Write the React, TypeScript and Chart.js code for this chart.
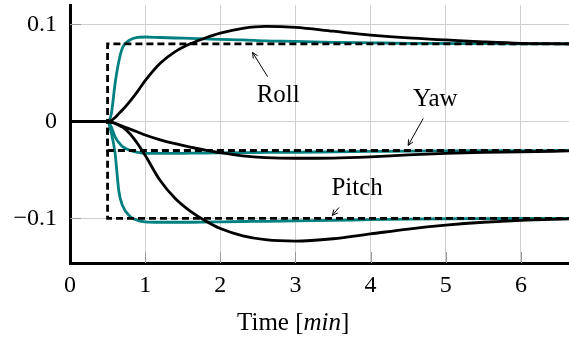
import React, { useEffect, useRef } from 'react';
import { Chart, registerables } from 'chart.js';

Chart.register(...registerables);

// ---- data ----
const timeGrid = [0, 0.5, 0.55, 0.6, 0.65, 0.7, 0.8, 0.9, 1.0, 1.2, 1.4, 1.6, 1.8, 2.0, 2.3, 2.6, 3.0, 3.5, 4.0, 4.5, 5.0, 5.5, 6.0, 6.64];

const rollFast = [0, 0, 0.008, 0.039, 0.062, 0.076, 0.084, 0.0865, 0.087, 0.0865, 0.086, 0.0855, 0.085, 0.0845, 0.084, 0.083, 0.0825, 0.0815, 0.081, 0.0805, 0.0803, 0.0801, 0.080, 0.080];
const rollSlow = [0, 0, 0.001, 0.004, 0.008, 0.012, 0.021, 0.031, 0.042, 0.060, 0.072, 0.080, 0.086, 0.091, 0.096, 0.098, 0.097, 0.093, 0.089, 0.086, 0.084, 0.082, 0.0805, 0.080];
const yawFast = [0, 0, -0.006, -0.016, -0.022, -0.026, -0.030, -0.032, -0.033, -0.033, -0.033, -0.0328, -0.0326, -0.0325, -0.0323, -0.032, -0.0318, -0.0314, -0.031, -0.0306, -0.0303, -0.0302, -0.0301, -0.030];
const yawSlow = [0, 0, -0.001, -0.002, -0.0035, -0.005, -0.008, -0.011, -0.014, -0.019, -0.023, -0.0265, -0.0295, -0.0322, -0.0355, -0.0373, -0.038, -0.0378, -0.0365, -0.0345, -0.033, -0.032, -0.0315, -0.0305];
const pitchFast = [0, 0, -0.012, -0.033, -0.072, -0.087, -0.098, -0.102, -0.1035, -0.104, -0.104, -0.104, -0.1038, -0.1035, -0.1032, -0.103, -0.1025, -0.102, -0.1013, -0.1008, -0.1004, -0.1002, -0.1001, -0.100];
const pitchSlow = [0, 0, -0.001, -0.002, -0.004, -0.006, -0.013, -0.023, -0.035, -0.061, -0.0795, -0.0925, -0.1025, -0.1105, -0.118, -0.122, -0.1235, -0.121, -0.116, -0.111, -0.107, -0.104, -0.102, -0.1005];

const refTime = [0, 0.5, 0.5, 6.64];
const rollRef = [0, 0, 0.08, 0.08];
const yawRef = [0, 0, -0.03, -0.03];
const pitchRef = [0, 0, -0.1, -0.1];

const xTicks = [0, 1, 2, 3, 4, 5, 6];
const yTicks = [-0.1, 0, 0.1];

const xMin = 0;
const xMax = 6.64;
const yMin = -0.146;
const yMax = 0.12;

// labels with arrows (data coordinates)
const annotations = [
  { text: 'Roll', tx: 2.77, ty: 0.027, x0: 2.63, y0: 0.046, x1: 2.43, y1: 0.071 },
  { text: 'Yaw', tx: 4.86, ty: 0.023, x0: 4.70, y0: 0.003, x1: 4.50, y1: -0.0247 },
  { text: 'Pitch', tx: 3.82, ty: -0.069, x0: 3.58, y0: -0.0887, x1: 3.49, y1: -0.0969 },
];

const TEAL = '#008080';
const FONT = '"Liberation Serif", "Times New Roman", serif';

const toPts = (xs: number[], ys: number[]) => xs.map((x, i) => ({ x, y: ys[i] }));

const decorPlugin = {
  id: 'decor',
  beforeDatasetsDraw(chart: any) {
    const { ctx, chartArea } = chart;
    const xs = chart.scales.x;
    const ys = chart.scales.y;
    ctx.save();
    ctx.strokeStyle = '#9a9a9a';
    ctx.lineWidth = 1;
    yTicks.forEach((v) => {
      const y = Math.round(ys.getPixelForValue(v)) + 0.5;
      ctx.beginPath();
      ctx.moveTo(chartArea.left, y);
      ctx.lineTo(chartArea.left + 11, y);
      ctx.stroke();
    });
    xTicks.forEach((v) => {
      if (v === 0) return;
      const x = Math.round(xs.getPixelForValue(v)) + 0.5;
      ctx.beginPath();
      ctx.moveTo(x, chartArea.bottom);
      ctx.lineTo(x, chartArea.bottom - 11);
      ctx.stroke();
    });
    ctx.restore();
  },
  afterDraw(chart: any) {
    const { ctx } = chart;
    const xs = chart.scales.x;
    const ys = chart.scales.y;
    ctx.save();
    ctx.fillStyle = '#000';
    ctx.strokeStyle = '#000';
    ctx.font = `25px ${FONT}`;
    ctx.textAlign = 'center';
    ctx.textBaseline = 'middle';
    annotations.forEach((a) => {
      ctx.fillText(a.text, xs.getPixelForValue(a.tx), ys.getPixelForValue(a.ty));
      const px0 = xs.getPixelForValue(a.x0);
      const py0 = ys.getPixelForValue(a.y0);
      const px1 = xs.getPixelForValue(a.x1);
      const py1 = ys.getPixelForValue(a.y1);
      ctx.lineWidth = 1;
      ctx.beginPath();
      ctx.moveTo(px0, py0);
      ctx.lineTo(px1, py1);
      ctx.stroke();
      const ang = Math.atan2(py1 - py0, px1 - px0);
      const L = 6;
      ctx.beginPath();
      ctx.moveTo(px1 - L * Math.cos(ang - 0.45), py1 - L * Math.sin(ang - 0.45));
      ctx.lineTo(px1, py1);
      ctx.lineTo(px1 - L * Math.cos(ang + 0.45), py1 - L * Math.sin(ang + 0.45));
      ctx.stroke();
    });
    // x axis title with italic unit
    const parts = [
      { t: 'Time [', f: `25px ${FONT}` },
      { t: 'min', f: `italic 25px ${FONT}` },
      { t: ']', f: `25px ${FONT}` },
    ];
    let total = 0;
    parts.forEach((p) => {
      ctx.font = p.f;
      total += ctx.measureText(p.t).width;
    });
    let cx = xs.getPixelForValue(2.97) - total / 2;
    const cy = chart.chartArea.bottom + 60;
    ctx.textAlign = 'left';
    parts.forEach((p) => {
      ctx.font = p.f;
      ctx.fillText(p.t, cx, cy);
      cx += ctx.measureText(p.t).width;
    });
    ctx.restore();
  },
};

export default function App() {
  const ref = useRef<HTMLCanvasElement | null>(null);
  useEffect(() => {
    if (!ref.current) return;
    const solid = (data: number[], color: string, order: number) => ({
      data: toPts(timeGrid, data),
      borderColor: color,
      borderWidth: 2.8,
      pointRadius: 0,
      fill: false,
      cubicInterpolationMode: 'monotone' as const,
      order,
    });
    const dashed = (data: number[]) => ({
      data: toPts(refTime, data),
      borderColor: '#000',
      borderWidth: 2.8,
      borderDash: [7, 4],
      pointRadius: 0,
      fill: false,
      tension: 0,
      order: 0,
    });
    const zeroPad = (s: any) => {
      s.paddingTop = 0;
      s.paddingBottom = 0;
      s.paddingLeft = 0;
      s.paddingRight = 0;
    };
    const chart = new Chart(ref.current, {
      type: 'line',
      data: {
        datasets: [
          dashed(rollRef),
          dashed(yawRef),
          dashed(pitchRef),
          solid(rollSlow, '#000', 1),
          solid(yawSlow, '#000', 1),
          solid(pitchSlow, '#000', 1),
          solid(rollFast, TEAL, 2),
          solid(yawFast, TEAL, 2),
          solid(pitchFast, TEAL, 2),
        ] as any,
      },
      options: {
        animation: false,
        responsive: false,
        devicePixelRatio: 1,
        layout: { padding: { top: 5, right: 0, left: 0, bottom: 0 }, autoPadding: false },
        plugins: { legend: { display: false }, tooltip: { enabled: false } },
        scales: {
          x: {
            type: 'linear',
            min: xMin,
            max: xMax,
            afterBuildTicks: (s: any) => {
              s.ticks = xTicks.map((v) => ({ value: v }));
            },
            afterFit: (s: any) => {
              s.height = 76;
              zeroPad(s);
            },
            grid: { color: '#d0d0d0', lineWidth: 1, drawTicks: false },
            border: { display: true, color: '#000', width: 3 },
            ticks: {
              padding: 8,
              color: '#000',
              font: { family: FONT, size: 24 },
              maxRotation: 0,
              callback: (v: any) => String(v),
            },
          },
          y: {
            type: 'linear',
            min: yMin,
            max: yMax,
            afterBuildTicks: (s: any) => {
              s.ticks = yTicks.map((v) => ({ value: v }));
            },
            afterFit: (s: any) => {
              s.width = 70;
              zeroPad(s);
            },
            grid: { color: '#d0d0d0', lineWidth: 1, drawTicks: false },
            border: { display: true, color: '#000', width: 3 },
            ticks: {
              padding: 13,
              color: '#000',
              font: { family: FONT, size: 24 },
              callback: (v: any) => {
                const n = Number(v);
                if (Math.abs(n) < 1e-9) return '0';
                return (n < 0 ? '\u2212' : '') + String(Math.round(Math.abs(n) * 100) / 100);
              },
            },
          },
        },
      },
      plugins: [decorPlugin],
    });
    return () => chart.destroy();
  }, []);
  return (
    <div style={{ position: 'fixed', left: 0, top: 0, width: 569, height: 339, background: '#fff' }}>
      <canvas ref={ref} width={569} height={339} style={{ width: 569, height: 339 }} />
    </div>
  );
}
